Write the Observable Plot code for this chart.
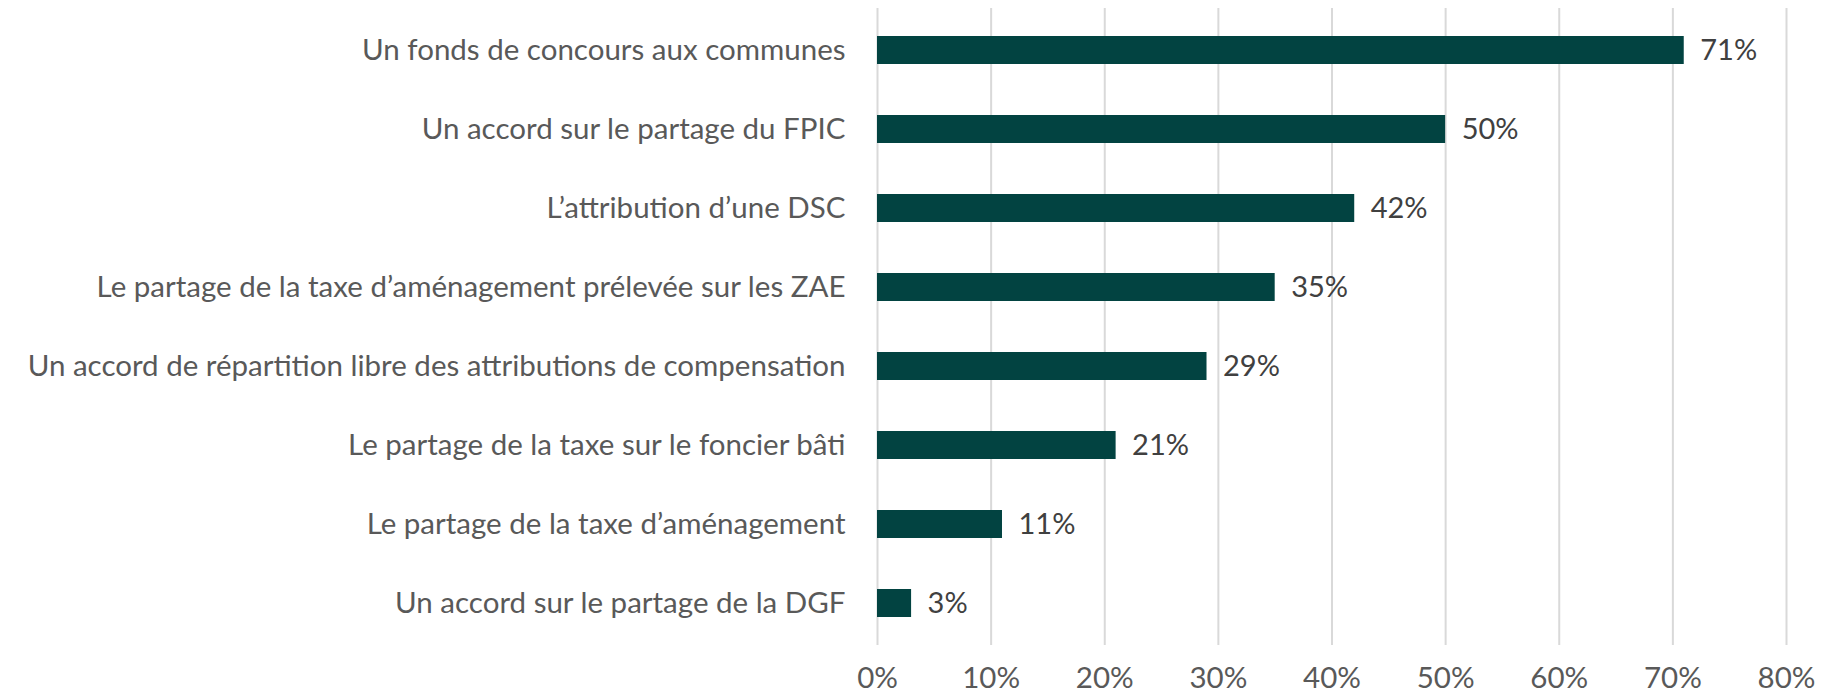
<!DOCTYPE html>
<html><head><meta charset="utf-8">
<script src="https://cdn.jsdelivr.net/npm/d3@7"></script>
<script src="https://cdn.jsdelivr.net/npm/@observablehq/plot@0.6"></script>
<style>body{margin:0;background:#fff;} svg{display:block;}</style>
</head><body><div id="chart"></div>
<script>
const categories = [
  "Un fonds de concours aux communes",
  "Un accord sur le partage du FPIC",
  "L’attribution d’une DSC",
  "Le partage de la taxe d’aménagement prélevée sur les ZAE",
  "Un accord de répartition libre des attributions de compensation",
  "Le partage de la taxe sur le foncier bâti",
  "Le partage de la taxe d’aménagement",
  "Un accord sur le partage de la DGF"
];
const values = [0.71, 0.50, 0.42, 0.35, 0.29, 0.21, 0.11, 0.03];
const xTicks = [0, 0.1, 0.2, 0.3, 0.4, 0.5, 0.6, 0.7, 0.8];
const data = categories.map((c, i) => ({category: c, value: values[i]}));
const fmt = d3.format(".0%");
const chart = Plot.plot({
  width: 1828, height: 700,
  marginTop: 8, marginBottom: 55, marginLeft: 877, marginRight: 42,
  style: {fontFamily: "Lato, sans-serif", fontSize: "29.5px", color: "#595959", background: "#fff"},
  x: {domain: [0, 0.8], ticks: xTicks, tickFormat: fmt, label: null, tickSize: 0, tickPadding: 22},
  y: {domain: categories, label: null, tickSize: 0, tickPadding: 32, paddingInner: 0.648, paddingOuter: 0.33},
  marks: [
    Plot.gridX(xTicks, {stroke: "#d9d9d9", strokeOpacity: 1, strokeWidth: 2}),
    Plot.barX(data, {x: "value", y: "category", fill: "#024341"}),
    Plot.text(data, {x: "value", y: "category", text: d => fmt(d.value), textAnchor: "start", dx: 16, fill: "#404040", fontSize: 29})
  ]
});
document.getElementById("chart").appendChild(chart);
</script></body></html>
